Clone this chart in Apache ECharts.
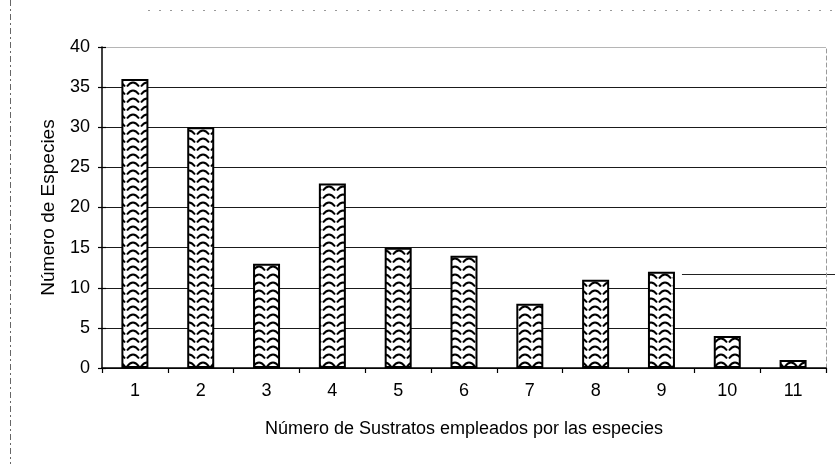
<!DOCTYPE html>
<html>
<head>
<meta charset="utf-8">
<script src="https://cdn.jsdelivr.net/npm/echarts@6/dist/echarts.min.js"></script>
<style>
  html, body { margin: 0; padding: 0; background: #fff; }
  #chart { width: 835px; height: 464px; }
</style>
</head>
<body>
<div id="chart"></div>
<script>
// Number of substrates used per species (x) and how many species use them (y)
const substrates = ['1', '2', '3', '4', '5', '6', '7', '8', '9', '10', '11'];
const speciesCount = [36, 30, 13, 23, 15, 14, 8, 11, 12, 4, 1];
const yMin = 0;
const yMax = 40;
const yStep = 5;
const strayLineValue = 11.7;   // stray rule to the right of bar 9

const xTitle = 'Número de Sustratos empleados por las especies';
const yTitle = 'Número de Especies';
const FONT = '"Liberation Sans", Arial, sans-serif';

// Wave / chevron fill tile for the bars
function waveTile() {
  const c = document.createElement('canvas');
  c.width = 14; c.height = 8;
  const ctx = c.getContext('2d');
  ctx.fillStyle = '#fff';
  ctx.fillRect(0, 0, 14, 8);
  ctx.strokeStyle = '#000';
  ctx.lineWidth = 2;
  ctx.beginPath();
  ctx.moveTo(1, 6.5);
  ctx.quadraticCurveTo(7, -1.5, 13, 6.5);
  ctx.stroke();
  return c;
}

const chart = echarts.init(document.getElementById('chart'), null, { renderer: 'canvas' });

const gridLineColors = [];
for (let v = yMin; v <= yMax; v += yStep) {
  gridLineColors.push(v === yMax ? '#b5b5b5' : '#1a1a1a');
}

chart.setOption({
  animation: false,
  backgroundColor: '#fff',
  textStyle: { fontFamily: FONT, color: '#000' },
  grid: { left: 102, right: 9, top: 47, bottom: 96 },
  xAxis: {
    type: 'category',
    data: substrates,
    boundaryGap: true,
    axisLine: { show: true, lineStyle: { color: '#000', width: 1.5 } },
    axisTick: { show: true, length: 5, alignWithLabel: false, lineStyle: { color: '#000', width: 1.2 } },
    axisLabel: { color: '#000', fontSize: 18, fontFamily: FONT, margin: 14 },
    name: xTitle,
    nameLocation: 'middle',
    nameGap: 52,
    nameTextStyle: { color: '#000', fontSize: 18, fontFamily: FONT }
  },
  yAxis: [
    {
      type: 'value',
      min: yMin, max: yMax, interval: yStep,
      position: 'left',
      axisLine: { show: true, lineStyle: { color: '#000', width: 1.5 } },
      axisTick: { show: true, length: 4, lineStyle: { color: '#000', width: 1.2 } },
      axisLabel: { color: '#000', fontSize: 18, fontFamily: FONT, margin: 12 },
      splitLine: { show: true, lineStyle: { color: gridLineColors, width: 1 } },
      name: yTitle,
      nameLocation: 'middle',
      nameGap: 44,
      nameRotate: 90,
      nameTextStyle: { color: '#000', fontSize: 19, fontFamily: FONT }
    },
    {
      // inner half of the cross tick marks on the value axis
      type: 'value',
      min: yMin, max: yMax, interval: yStep,
      position: 'left',
      axisLine: { show: false },
      axisTick: { show: true, inside: true, length: 4, lineStyle: { color: '#000', width: 1.2 } },
      axisLabel: { show: false },
      splitLine: { show: false }
    },
    {
      // faint right-hand frame of the plot area
      type: 'value',
      min: yMin, max: yMax, interval: yStep,
      position: 'right',
      axisLine: { show: true, lineStyle: { color: '#9a9a9a', width: 1, type: [4, 3] } },
      axisTick: { show: false },
      axisLabel: { show: false },
      splitLine: { show: false }
    }
  ],
  series: [
    {
      type: 'bar',
      data: speciesCount,
      barWidth: 27,
      itemStyle: {
        color: { image: waveTile(), repeat: 'repeat' },
        borderColor: '#000',
        borderWidth: 2
      }
    }
  ]
});

// Page frame remnants and the stray rule beside bar 9
const yStray = Math.round(chart.convertToPixel({ yAxisIndex: 0 }, strayLineValue)) + 0.5;
const xStray = chart.convertToPixel({ xAxisIndex: 0 }, substrates[8]) + 13.5 + 7;
chart.setOption({
  graphic: [
    {
      type: 'line',
      shape: { x1: 10.5, y1: 0, x2: 10.5, y2: 464 },
      style: { stroke: '#666', lineWidth: 1, lineDash: [6, 3, 2, 3] },
      silent: true
    },
    {
      type: 'line',
      shape: { x1: 148, y1: 10.5, x2: 835, y2: 10.5 },
      style: { stroke: '#999', lineWidth: 1, lineDash: [2, 9] },
      silent: true
    },
    {
      type: 'line',
      shape: { x1: xStray, y1: yStray, x2: 835, y2: yStray },
      style: { stroke: '#222', lineWidth: 1 },
      silent: true
    }
  ]
});
</script>
</body>
</html>
